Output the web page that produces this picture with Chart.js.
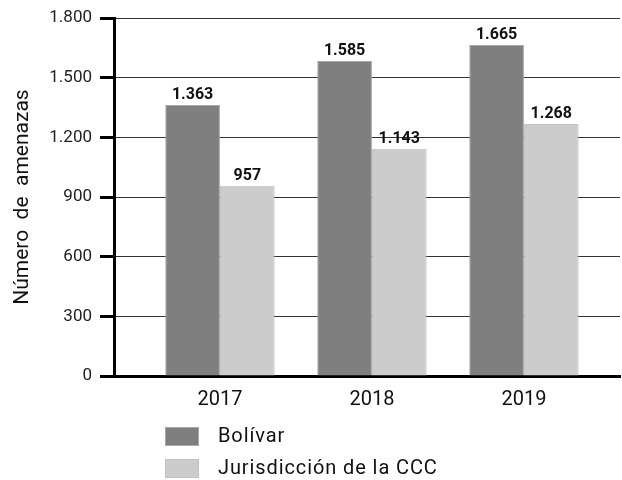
<!DOCTYPE html>
<html>
<head>
<meta charset="utf-8">
<script src="https://cdn.jsdelivr.net/npm/chart.js@4.4.0/dist/chart.umd.min.js"></script>
<style>
  html, body { margin: 0; padding: 0; background: #fff; }
</style>
</head>
<body>
<canvas id="amenazasChart" width="622" height="480"></canvas>
<script>
// Data
const years = ['2017', '2018', '2019'];
const bolivar = [1363, 1585, 1665];
const jurisdiccion = [957, 1143, 1268];
const yTicks = [0, 300, 600, 900, 1200, 1500, 1800];

const seriesNames = ['Bolívar', 'Jurisdicción de la CCC'];
const seriesColors = ['#7f7f7f', '#cccccc'];

// 1363 -> "1.363"
function fmt(v) {
    return String(v).replace(/\B(?=(\d{3})+(?!\d))/g, '.');
}

// Bar value labels on top of each bar
const barLabels = {
    id: 'barLabels',
    afterDatasetsDraw(chart) {
        const ctx = chart.ctx;
        ctx.save();
        ctx.font = 'bold 16px Roboto';
        ctx.fillStyle = '#111';
        ctx.textAlign = 'center';
        ctx.textBaseline = 'bottom';
        chart.data.datasets.forEach((ds, i) => {
            chart.getDatasetMeta(i).data.forEach((bar, j) => {
                ctx.fillText(fmt(ds.data[j].y), bar.x, bar.y - 2);
            });
        });
        ctx.restore();
    }
};

// Vertical legend under the x axis
const stackedLegend = {
    id: 'stackedLegend',
    afterDraw(chart) {
        const ctx = chart.ctx;
        const top = chart.chartArea.bottom + 51;
        ctx.save();
        ctx.font = '20px Roboto';
        ctx.letterSpacing = '0.9px';
        ctx.textBaseline = 'middle';
        chart.data.datasets.forEach((ds, i) => {
            const y = top + i * 32;
            ctx.fillStyle = ds.backgroundColor;
            ctx.fillRect(165, y, 34, 19);
            ctx.strokeStyle = ds.borderColor;
            ctx.lineWidth = 1;
            ctx.strokeRect(165.5, y + 0.5, 33, 18);
            ctx.fillStyle = '#111';
            ctx.fillText(ds.label, 218, y + 10);
        });
        ctx.restore();
    }
};

const ctx = document.getElementById('amenazasChart');
new Chart(ctx, {
    type: 'bar',
    data: {
        datasets: [
            {
                label: seriesNames[0],
                data: bolivar.map((v, i) => ({ x: i, y: v })),
                backgroundColor: seriesColors[0],
                borderColor: '#a8a8a8',
                borderWidth: 1
            },
            {
                label: seriesNames[1],
                data: jurisdiccion.map((v, i) => ({ x: i, y: v })),
                backgroundColor: seriesColors[1],
                borderColor: '#c2c2c2',
                borderWidth: 1
            }
        ]
    },
    options: {
        responsive: false,
        animation: false,
        categoryPercentage: 0.72,
        barPercentage: 1.0,
        layout: { padding: { top: 13, right: 2, left: 0, bottom: 0 } },
        plugins: {
            legend: { display: false },
            tooltip: { enabled: false }
        },
        scales: {
            x: {
                type: 'linear',
                offset: false,
                min: -0.697,
                max: 2.632,
                grid: { display: false, offset: false },
                border: { display: true, color: '#000', width: 3 },
                ticks: {
                    stepSize: 1,
                    includeBounds: false,
                    padding: 4,
                    color: '#111',
                    font: { family: 'Roboto', size: 20 },
                    callback: (v) => Number.isInteger(v) ? years[v] : ''
                },
                afterFit(scale) { scale.height = 104; }
            },
            y: {
                min: 0,
                max: 1800,
                afterBuildTicks(scale) {
                    scale.ticks = yTicks.map(v => ({ value: v }));
                },
                grid: {
                    color: '#333',
                    lineWidth: 1,
                    drawTicks: true,
                    tickLength: 14,
                    tickWidth: 3,
                    tickColor: '#000'
                },
                border: { display: true, color: '#000', width: 3 },
                ticks: {
                    padding: 8,
                    color: '#222',
                    font: { family: 'Roboto', size: 17 },
                    callback: (v) => fmt(v)
                },
                title: {
                    display: true,
                    text: 'Número  de  amenazas',
                    color: '#111',
                    font: { family: 'Roboto', size: 21 },
                    padding: { top: 10, bottom: 0 }
                },
                afterFit(scale) { scale.width = 114; }
            }
        }
    },
    plugins: [barLabels, stackedLegend]
});
</script>
</body>
</html>
